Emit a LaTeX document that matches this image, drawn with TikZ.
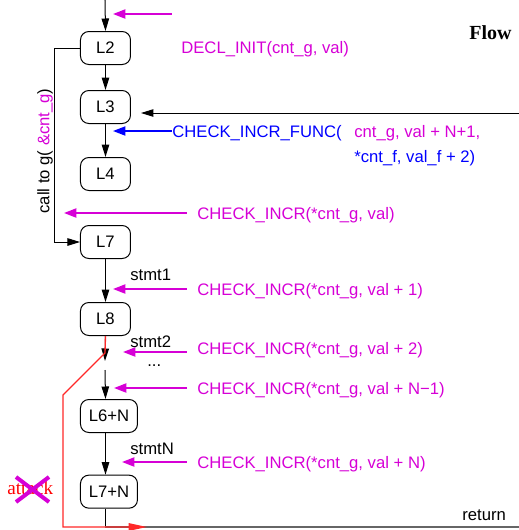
\documentclass[tikz,border=0pt]{standalone}
\usepackage{fontspec}
\setmainfont{Liberation Sans}
\newfontfamily\tmsfont{Liberation Serif}
\usetikzlibrary{arrows.meta,positioning}
\definecolor{chkmag}{RGB}{214,0,214}
\definecolor{atkred}{RGB}{255,40,40}

\begin{document}
\begin{tikzpicture}[x=0.6pt, y=-0.6pt, font=\fontsize{10}{12}\selectfont,
  >={Triangle[length=7.5pt,width=4.5pt]}, node distance=15pt,
  blk/.style={draw, rounded corners=5pt, minimum width=30pt, minimum height=19.8pt,
    inner xsep=5pt, inner ysep=0pt, line width=0.6pt},
  lbl/.style={anchor=west, inner sep=0pt},
  chk/.style={lbl, text=chkmag},
  flw/.style={->, line width=0.6pt},
  marr/.style={-{Triangle[length=7.5pt,width=5.5pt]}, chkmag, line width=1.2pt, shorten <=6pt},
  barr/.style={-{Triangle[length=7.5pt,width=5.5pt]}, blue, line width=1pt},
  retln/.style={black!60, line width=1.4pt}]
\useasboundingbox (0,0) rectangle (519,530);

% basic blocks of the function body
\node[blk, anchor=west] (L2) at (80,48) {L2};
\node[blk, below=15pt of L2.south west, anchor=north west] (L3) {L3};
\node[blk, below=19.8pt of L3.south west, anchor=north west] (L4) {L4};
\node[blk, below=20.4pt of L4.south west, anchor=north west] (L7) {L7};
\node[blk, below=25.8pt of L7.south west, anchor=north west] (L8) {L8};
\node[blk, below=37.8pt of L8.south west, anchor=north west] (L6N) {L6+N};
\node[blk, below=25pt of L6N.south west, anchor=north west] (L7N) {L7+N};

\coordinate (entry) at (105,0);
\coordinate (gapA) at (105,361);
\coordinate (gapB) at (105,370);
\coordinate (fin) at (519,113);
\coordinate (jmp) at (105,353);
\coordinate (esc) at (63,395);
\coordinate (base) at (63,527);
\coordinate (exit) at (519,527);

% control flow
\draw[flw] (entry) -- (L2.north);
\foreach \u/\v in {L2/L3,L3/L4,L7/L8} \draw[flw] (\u) -- (\v);
\draw[flw] (L8.south) -- (gapA);
\draw[flw] (gapB) -- (L8.south |- L6N.north);
\draw[flw] (L8.south |- L6N.south) -- (L8.south |- L7N.north);
\draw[flw] (L2.west) -- ++(-25,0) |- (L7.west);
\draw[flw, shorten >=6pt] (fin) -- (fin -| L3.east);
\draw[line width=0.6pt] (L8.south |- L7N.south) -- (L8.south |- base);
\draw[retln] (L8.south |- base) -- (exit);

\node[rotate=90] (call) at (45,151) {call to g( \textcolor{chkmag}{\&cnt\_g})};

% instrumentation
\coordinate (m0) at (172,14);
\coordinate (m0t) at (113,14);
\draw[marr, shorten <=0pt] (m0) -- (m0t);
\node[chk] (decl) at (181,49) {DECL\_INIT(cnt\_g, val)};

\node[lbl, text=blue] (fn) at (172,133) {CHECK\_INCR\_FUNC(};
\node[chk] (fa) at (354,133) {cnt\_g, val + N+1,};
\node[lbl, text=blue] (fb) at (354,158) {*cnt\_f, val\_f + 2)};
\coordinate (tf) at (113,131);
\draw[barr] (fn.west |- tf) -- (tf);

\foreach \arg/\ty/\ay/\ax [count=\i] in {{val}/215/213/64, {val + 1}/291/289/113,
    {val + 2}/350/352/123, {val + N−1}/390/388/114, {val + N}/464/462/122} {
  \node[chk] (chk\i) at (197,\ty) {CHECK\_INCR(*cnt\_g, \arg)};
  \coordinate (tip\i) at (\ax,\ay);
  \draw[marr] (chk\i.west |- tip\i) -- (tip\i);
}

\node[lbl] (s1) at (130,275) {stmt1};
\node[lbl] (s2) at (130,342) {stmt2};
\node[lbl] (dots) at (147,366) {...};
\node[lbl] (sN) at (130,449) {stmtN};
\node[lbl] (ret) at (462,515) {return};
\node[anchor=east, inner sep=0pt, font=\tmsfont\bfseries\fontsize{12}{14}\selectfont] (flow) at (512,33) {Flow};

% the attack path
\draw[atkred, line width=0.8pt, -{Triangle[length=11pt,width=4.5pt]}] (L8.south) -- (jmp) -- (esc) -- (base) -- ++(84,0);
\node[lbl, text=red, font=\tmsfont\fontsize{11.5}{13}\selectfont] (atk) at (7,488) {attack};
\draw[chkmag, line width=2.4pt] (16,477) -- (49,502) (16,502) -- (49,477);
\end{tikzpicture}
\end{document}
